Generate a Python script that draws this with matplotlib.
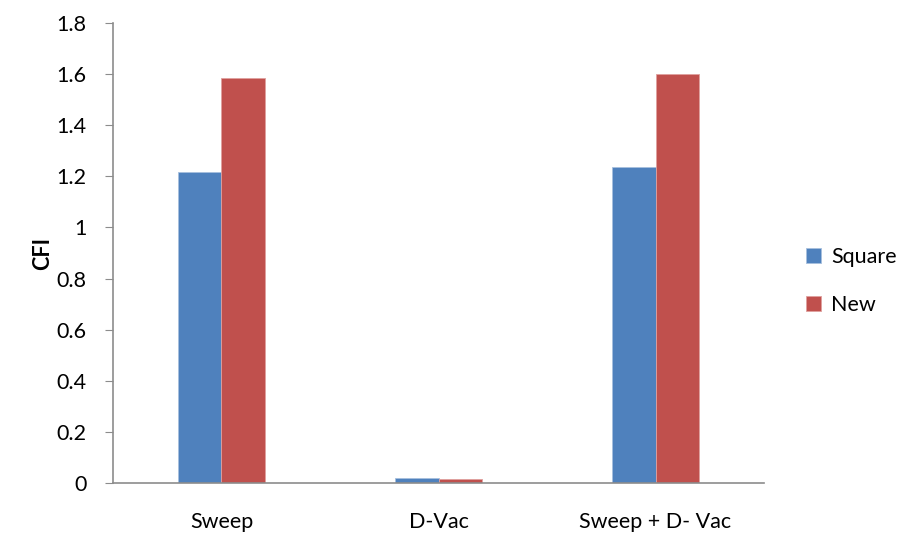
import matplotlib
matplotlib.use('Agg')
import matplotlib.pyplot as plt
import numpy as np

# data
categories = ['Sweep', 'D-Vac', 'Sweep + D- Vac']
square = [1.216, 0.021, 1.238]
new = [1.585, 0.017, 1.602]
series_names = ['Square', 'New']
series_colors = ['#4F81BD', '#C0504D']

plt.rcParams['font.family'] = ['Lato', 'DejaVu Sans']
fs = 15.5

fig = plt.figure(figsize=(9.06, 5.39), dpi=100)
ax = fig.add_axes([0.1247, 0.1039, 0.7186, 0.8534])

x = np.arange(len(categories))
w = 0.2
ax.bar(x - w / 2, square, w, color=series_colors[0], edgecolor='#A7C0DE',
       linewidth=0.6, label=series_names[0])
ax.bar(x + w / 2, new, w, color=series_colors[1], edgecolor='#DFA09E',
       linewidth=0.6, label=series_names[1])

ax.set_xlim(-0.5, len(categories) - 0.5)
ax.set_ylim(0, 1.8)
ax.set_yticks(np.arange(0, 1.81, 0.2))
ax.set_yticklabels(['0', '0.2', '0.4', '0.6', '0.8', '1', '1.2', '1.4', '1.6', '1.8'])
ax.set_xticks(x)
ax.set_xticklabels(categories)

for s in ['top', 'right']:
    ax.spines[s].set_visible(False)
for s in ['left', 'bottom']:
    ax.spines[s].set_color('#8C8C8C')
    ax.spines[s].set_linewidth(1.2)

ax.tick_params(axis='y', length=6, color='#8C8C8C', labelsize=fs, pad=13)
ax.tick_params(axis='x', length=0, labelsize=fs, pad=21)

ax.set_ylabel('CFI', fontsize=fs, fontweight='bold')
ax.yaxis.set_label_coords(-0.092, 0.5)

ax.legend(loc='center left', bbox_to_anchor=(1.035, 0.44), frameon=False,
          fontsize=fs, handlelength=0.7, handleheight=0.7,
          labelspacing=1.3, handletextpad=0.45)

fig.savefig('out.png', dpi=100)
